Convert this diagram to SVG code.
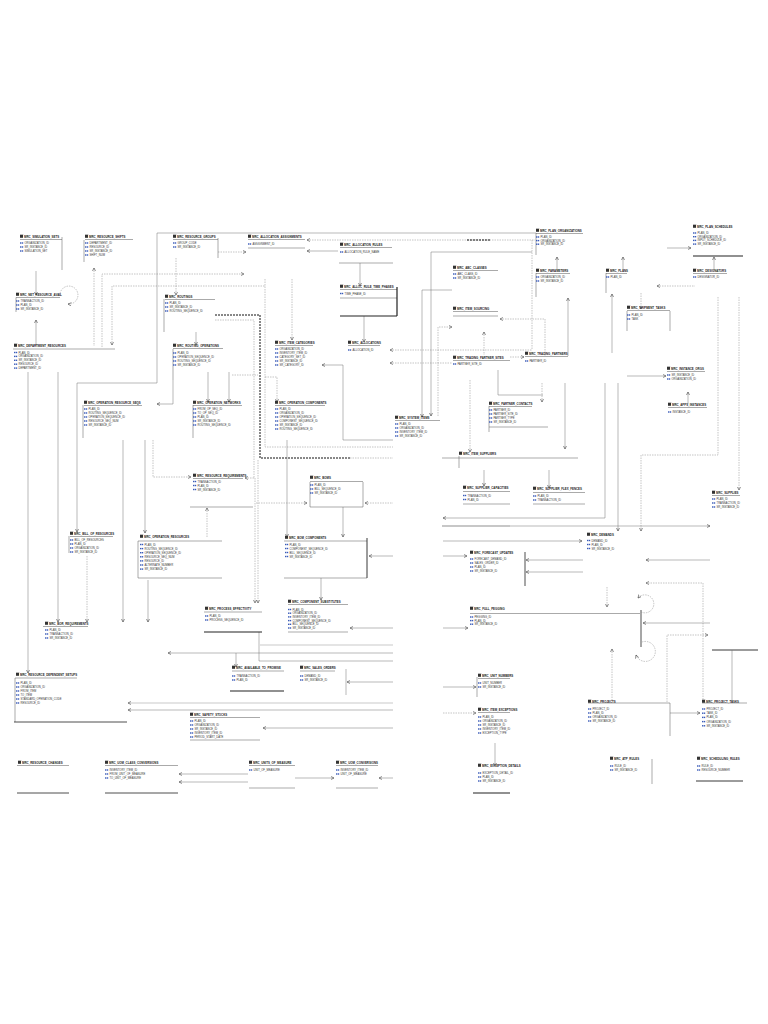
<svg xmlns="http://www.w3.org/2000/svg" xmlns:xlink="http://www.w3.org/1999/xlink" width="768" height="1024" viewBox="0 0 768 1024">
<style>
.t{font:bold 2.9px "Liberation Sans",Arial,sans-serif;fill:#222}
.f{font:2.7px "Liberation Sans",Arial,sans-serif;fill:#333}
.ln{fill:none;stroke:#555;stroke-width:0.5}
.bk{fill:none;stroke:#222;stroke-width:1.2}
.c{fill:none;stroke:#707070;stroke-width:0.5}
.d{fill:none;stroke:#888;stroke-width:0.5;stroke-dasharray:1.5 1}
.dk{fill:none;stroke:#111;stroke-width:1;stroke-dasharray:2 1}
.g{fill:none;stroke:#bbb;stroke-width:0.8}
.ar{marker-end:url(#a)}
.as{marker-start:url(#a)}
</style>
<defs>
<marker id="a" viewBox="0 0 6 6" refX="5" refY="3" markerWidth="4" markerHeight="4" markerUnits="userSpaceOnUse" orient="auto-start-reverse"><path d="M0,0.5L5,3L0,5.5" fill="none" stroke="#444" stroke-width="0.9"/></marker>
<g id="ic"><rect x="0" y="-3.2" width="3" height="3" fill="#333"/><path d="M0,-3.5H3.5" stroke="#999" stroke-width="0.4"/></g>
<g id="k" fill="#3a5bb8"><rect x="0" y="-1.7" width="1.4" height="1.4"/><rect x="1.8" y="-1.7" width="1.4" height="1.4"/></g>
</defs>
<rect width="768" height="1024" fill="#fff"/>

<g id="connectors">
<path class="c ar" d="M36,271V295"/>
<path class="c ar" d="M36,346V320"/>
<path class="d ar" d="M60,296A9,9 0 1 1 68,304"/>
<path class="d as" d="M94,268V346"/>
<path class="d ar" d="M102,347V274H244"/>
<path class="d as" d="M112,345V286H265"/>
<path class="d" d="M265,279V447H393"/>
<path class="d ar" d="M292,279V340"/>
<path class="d ar" d="M265,377H277V402"/>
<path class="d ar" d="M218,252H246"/>
<path class="d ar" d="M176,258V295"/>
<path class="c as" d="M307,251H338"/>
<path class="d as" d="M307,240H535"/>
<path class="dk" d="M467,240H490"/>
<path class="c ar" d="M360,263V286"/>
<path class="c ar" d="M364,316V342"/>
<path class="c" d="M157,370V233H536"/>
<path class="c ar" d="M157,370V383H77V532"/>
<path class="c ar" d="M173,380V404H157"/>
<path class="c ar" d="M208,372V402"/>
<path class="c ar" d="M229,372V402"/>
<path class="c ar" d="M196,332V345"/>
<path class="d ar" d="M153,440V477H191"/>
<path class="d" d="M215,320H254V478"/>
<path class="d ar" d="M254,478H245"/>
<path class="d" d="M232,375H258"/>
<path class="dk" d="M215,315H260V458H350"/>
<path class="d" d="M350,458H393"/>
<path class="d as" d="M207,508V537"/>
<path class="d ar" d="M255,478V603"/>
<path class="d ar" d="M258,460V603"/>
<path class="c ar" d="M28,372V673"/>
<path class="c ar" d="M58,372V622"/>
<path class="d ar" d="M87,556V622"/>
<path class="c ar" d="M123,440V622"/>
<path class="c ar" d="M145,440V533"/>
<path class="c ar" d="M148,580V622"/>
<path class="c ar" d="M287,440V537"/>
<path class="c ar" d="M343,507V537"/>
<path class="c as" d="M322,365H343V440H393"/>
<path class="d as" d="M365,503H393"/>
<path class="d ar" d="M256,503H307"/>
<path class="c as" d="M369,556H393"/>
<path class="c ar" d="M321,578V600"/>
<path class="c as" d="M350,628H393"/>
<path class="g" d="M260,645H393"/>
<path class="c as" d="M168,653H393"/>
<path class="c" d="M259,632V661H393"/>
<path class="c ar" d="M236,653V667"/>
<path class="g as" d="M128,703H393"/>
<path class="c as" d="M128,710H393"/>
<path class="c" d="M346,669V695"/>
<path class="c as" d="M347,682H393"/>
<path class="c as" d="M263,728H393"/>
<path class="c as" d="M179,774H248"/>
<path class="c as" d="M179,782H248"/>
<path class="c ar" d="M295,778H334"/>
<path class="c as" d="M379,778H393"/>
<path class="c ar" d="M431,252V416"/>
<path class="c" d="M431,252H532"/>
<path class="c ar" d="M452,290H422V417"/>
<path class="d ar" d="M438,416V327H452"/>
<path class="d as" d="M484,332V355"/>
<path class="d as" d="M500,319H545V356"/>
<path class="d" d="M532,240V350"/>
<path class="d as" d="M390,350H532"/>
<path class="d as" d="M390,363H452"/>
<path class="d ar" d="M510,357H524"/>
<path class="c as" d="M557,257V270"/>
<path class="c as" d="M623,257V270"/>
<path class="c ar" d="M667,248H691"/>
<path class="c as" d="M714,257V270"/>
<path class="c as" d="M568,298V356"/>
<path class="c ar" d="M565,383V449"/>
<path class="c as" d="M612,294V353"/>
<path class="c ar" d="M627,376H666"/>
<path class="c ar" d="M605,383V518H443"/>
<path class="c ar" d="M618,383V531"/>
<path class="d ar" d="M641,293V309"/>
<path class="d as" d="M657,286H695"/>
<path class="d ar" d="M718,297V455H641V531"/>
<path class="d ar" d="M739,297V490"/>
<path class="c as" d="M688,392V404"/>
<path class="c" d="M498,370V395H543"/>
<path class="d ar" d="M542,383V402"/>
<path class="d ar" d="M470,380V452"/>
<path class="c ar" d="M484,470V486"/>
<path class="c ar" d="M549,470V488"/>
<path class="g" d="M442,526H510"/>
<path class="c ar" d="M442,526H710"/>
<path class="c ar" d="M443,541H582"/>
<path class="c ar" d="M443,556H467"/>
<path class="bk" style="stroke-width:0.8" d="M525,552V586"/>
<path class="c ar" d="M583,560H526"/>
<path class="c ar" d="M583,572H526"/>
<path class="c ar" d="M710,560H646"/>
<path class="d ar" d="M703,702V583H646"/>
<path class="d ar" d="M607,587V607"/>
<path class="c ar" d="M443,628H468"/>
<path class="bk" style="stroke-width:0.8" d="M641,610V647"/>
<path class="d ar" d="M641,612A9,9 0 1 0 638,598"/>
<path class="d ar" d="M642,642A10,10 0 1 1 636,655"/>
<path class="c ar" d="M710,623H643"/>
<path class="d ar" d="M667,702V635H708"/>
<path class="d as" d="M612,649V702"/>
<path class="bk" style="stroke-width:0.9" d="M712,650H758"/>
<path class="c" d="M732,650V702"/>
<path class="c ar" d="M670,713H700"/>
<path class="c ar" d="M443,687H476"/>
<path class="d ar" d="M443,713H476"/>
<path class="c ar" d="M495,743V766"/>
</g>

<g id="MRC_SIMULATION_SETS" transform="translate(20,238)"><use href="#ic"/><text class="t" x="4">MRC_SIMULATION_SETS</text><path class="ln" d="M0,1.5H42M42,-1V32"/><use href="#k" y="6"/><use href="#k" y="10"/><use href="#k" y="14"/><text class="f"><tspan x="4.5" y="6">ORGANIZATION_ID</tspan><tspan x="4.5" y="10">SR_INSTANCE_ID</tspan><tspan x="4.5" y="14">SIMULATION_SET</tspan></text></g>

<g id="MRC_NET_RESOURCE_AVAIL" transform="translate(16,296)"><use href="#ic"/><text class="t" x="4">MRC_NET_RESOURCE_AVAIL</text><path class="ln" d="M0,1.5H44M0,1.5V16"/><use href="#k" y="6"/><use href="#k" y="10"/><use href="#k" y="14"/><text class="f"><tspan x="4.5" y="6">TRANSACTION_ID</tspan><tspan x="4.5" y="10">PLAN_ID</tspan><tspan x="4.5" y="14">SR_INSTANCE_ID</tspan></text></g>

<g id="MRC_DEPARTMENT_RESOURCES" transform="translate(14,347)"><use href="#ic"/><text class="t" x="4">MRC_DEPARTMENT_RESOURCES</text><path class="ln" d="M-1,2H101"/><use href="#k" y="6.5"/><use href="#k" y="10.4"/><use href="#k" y="14.3"/><use href="#k" y="18.2"/><use href="#k" y="22.1"/><text class="f"><tspan x="4.5" y="6.5">PLAN_ID</tspan><tspan x="4.5" y="10.4">ORGANIZATION_ID</tspan><tspan x="4.5" y="14.3">SR_INSTANCE_ID</tspan><tspan x="4.5" y="18.2">RESOURCE_ID</tspan><tspan x="4.5" y="22.1">DEPARTMENT_ID</tspan></text></g>

<g id="MRC_RESOURCE_SHIFTS" transform="translate(85,238)"><use href="#ic"/><text class="t" x="4">MRC_RESOURCE_SHIFTS</text><path class="ln" d="M0,1.5H48M-1,2V24"/><use href="#k" y="6"/><use href="#k" y="10"/><use href="#k" y="14"/><use href="#k" y="18"/><text class="f"><tspan x="4.5" y="6">DEPARTMENT_ID</tspan><tspan x="4.5" y="10">RESOURCE_ID</tspan><tspan x="4.5" y="14">SR_INSTANCE_ID</tspan><tspan x="4.5" y="18">SHIFT_NUM</tspan></text></g>

<g id="MRC_RESOURCE_GROUPS" transform="translate(173,238)"><use href="#ic"/><text class="t" x="4">MRC_RESOURCE_GROUPS</text><path class="ln" d="M0,1.5H45M45,0V20"/><use href="#k" y="6"/><use href="#k" y="10"/><text class="f"><tspan x="4.5" y="6">GROUP_CODE</tspan><tspan x="4.5" y="10">SR_INSTANCE_ID</tspan></text></g>

<g id="MRC_ALLOCATION_ASSIGNMENTS" transform="translate(248,238)"><use href="#ic"/><text class="t" x="4">MRC_ALLOCATION_ASSIGNMENTS</text><path class="ln" d="M0,1.5H57M0,10H57"/><use href="#k" y="7"/><text class="f"><tspan x="4.5" y="7">ASSIGNMENT_ID</tspan></text></g>

<g id="MRC_ALLOCATION_RULES" transform="translate(340,246)"><use href="#ic"/><text class="t" x="4">MRC_ALLOCATION_RULES</text><path class="ln" d="M0,1.5H52M-1,17H53"/><use href="#k" y="7"/><text class="f"><tspan x="4.5" y="7">ALLOCATION_RULE_NAME</tspan></text></g>

<g id="MRC_ALLOC_RULE_TIME_PHASES" transform="translate(340,288)"><use href="#ic"/><text class="t" x="4">MRC_ALLOC_RULE_TIME_PHASES</text><path class="ln" d="M0,1.5H57M0,10H57"/><path class="bk" d="M57,-1V28M0,28H57"/><use href="#k" y="6.5"/><text class="f"><tspan x="4.5" y="6.5">TIME_PHASE_ID</tspan></text></g>

<g id="MRC_ALLOCATIONS" transform="translate(348,344)"><use href="#ic"/><text class="t" x="4">MRC_ALLOCATIONS</text><path class="ln" d="M0,1.5H32"/><use href="#k" y="7"/><text class="f"><tspan x="4.5" y="7">ALLOCATION_ID</tspan></text></g>

<g id="MRC_ITEM_CATEGORIES" transform="translate(275,344)"><use href="#ic"/><text class="t" x="4">MRC_ITEM_CATEGORIES</text><path class="ln" d="M0,1.5H38"/><use href="#k" y="6"/><use href="#k" y="10"/><use href="#k" y="14"/><use href="#k" y="18"/><use href="#k" y="22"/><text class="f"><tspan x="4.5" y="6">ORGANIZATION_ID</tspan><tspan x="4.5" y="10">INVENTORY_ITEM_ID</tspan><tspan x="4.5" y="14">CATEGORY_SET_ID</tspan><tspan x="4.5" y="18">SR_INSTANCE_ID</tspan><tspan x="4.5" y="22">SR_CATEGORY_ID</tspan></text></g>

<g id="MRC_ABC_CLASSES" transform="translate(453,269)"><use href="#ic"/><text class="t" x="4">MRC_ABC_CLASSES</text><path class="ln" d="M0,1.5H45"/><use href="#k" y="6"/><use href="#k" y="10"/><text class="f"><tspan x="4.5" y="6">ABC_CLASS_ID</tspan><tspan x="4.5" y="10">SR_INSTANCE_ID</tspan></text></g>

<g id="MRC_ITEM_SOURCING" transform="translate(453,310)"><use href="#ic"/><text class="t" x="4">MRC_ITEM_SOURCING</text><path class="ln" d="M0,1.5H45M0,6H45"/></g>

<g id="MRC_TRADING_PARTNER_SITES" transform="translate(453,359)"><use href="#ic"/><text class="t" x="4">MRC_TRADING_PARTNER_SITES</text><path class="ln" d="M0,1.5H57"/><use href="#k" y="6"/><text class="f"><tspan x="4.5" y="6">PARTNER_SITE_ID</tspan></text></g>

<g id="MRC_PLAN_ORGANIZATIONS" transform="translate(536,232)"><use href="#ic"/><text class="t" x="4">MRC_PLAN_ORGANIZATIONS</text><path class="ln" d="M0,1.5H47M0,1V23"/><use href="#k" y="6"/><use href="#k" y="9.6"/><use href="#k" y="13.2"/><text class="f"><tspan x="4.5" y="6">PLAN_ID</tspan><tspan x="4.5" y="9.6">ORGANIZATION_ID</tspan><tspan x="4.5" y="13.2">SR_INSTANCE_ID</tspan></text></g>

<g id="MRC_PARAMETERS" transform="translate(536,272)"><use href="#ic"/><text class="t" x="4">MRC_PARAMETERS</text><path class="ln" d="M0,1.5H34M0,1V25"/><use href="#k" y="6"/><use href="#k" y="10"/><text class="f"><tspan x="4.5" y="6">ORGANIZATION_ID</tspan><tspan x="4.5" y="10">SR_INSTANCE_ID</tspan></text></g>

<g id="MRC_PLANS" transform="translate(606,272)"><use href="#ic"/><text class="t" x="4">MRC_PLANS</text><path class="ln" d="M0,1.5H21M0,1V21"/><use href="#k" y="6"/><text class="f"><tspan x="4.5" y="6">PLAN_ID</tspan></text></g>

<g id="MRC_PLAN_SCHEDULES" transform="translate(693,228)"><use href="#ic"/><text class="t" x="4">MRC_PLAN_SCHEDULES</text><use href="#k" y="6"/><use href="#k" y="9.7"/><use href="#k" y="13.4"/><use href="#k" y="17.1"/><text class="f"><tspan x="4.5" y="6">PLAN_ID</tspan><tspan x="4.5" y="9.7">ORGANIZATION_ID</tspan><tspan x="4.5" y="13.4">INPUT_SCHEDULE_ID</tspan><tspan x="4.5" y="17.1">SR_INSTANCE_ID</tspan></text><path class="bk" d="M0,28H50"/></g>

<g id="MRC_DESIGNATORS" transform="translate(693,272)"><use href="#ic"/><text class="t" x="4">MRC_DESIGNATORS</text><path class="ln" d="M0,1.5H34"/><use href="#k" y="6"/><text class="f"><tspan x="4.5" y="6">DESIGNATOR_ID</tspan></text></g>

<g id="MRC_SHIPMENT_TASKS" transform="translate(627,309)"><use href="#ic"/><text class="t" x="4">MRC_SHIPMENT_TASKS</text><path class="ln" d="M0,1.5H43M0,2V22M43,2V22"/><use href="#k" y="7"/><use href="#k" y="11"/><text class="f"><tspan x="4.5" y="7">PLAN_ID</tspan><tspan x="4.5" y="11">TASK</tspan></text></g>

<g id="MRC_ROUTINGS" transform="translate(165,298)"><use href="#ic"/><text class="t" x="4">MRC_ROUTINGS</text><path class="ln" d="M0,1.5H50M-1,1V34"/><use href="#k" y="6"/><use href="#k" y="10"/><use href="#k" y="14"/><text class="f"><tspan x="4.5" y="6">PLAN_ID</tspan><tspan x="4.5" y="10">SR_INSTANCE_ID</tspan><tspan x="4.5" y="14">ROUTING_SEQUENCE_ID</tspan></text></g>

<g id="MRC_ROUTING_OPERATIONS" transform="translate(173,347)"><use href="#ic"/><text class="t" x="4">MRC_ROUTING_OPERATIONS</text><path class="ln" d="M0,1.5H50M0,2V33"/><use href="#k" y="7"/><use href="#k" y="11"/><use href="#k" y="15"/><use href="#k" y="19"/><text class="f"><tspan x="4.5" y="7">PLAN_ID</tspan><tspan x="4.5" y="11">OPERATION_SEQUENCE_ID</tspan><tspan x="4.5" y="15">ROUTING_SEQUENCE_ID</tspan><tspan x="4.5" y="19">SR_INSTANCE_ID</tspan></text></g>

<g id="MRC_TRADING_PARTNERS" transform="translate(525,355)"><use href="#ic"/><text class="t" x="4">MRC_TRADING_PARTNERS</text><path class="ln" d="M0,1.5H43"/><use href="#k" y="7"/><text class="f"><tspan x="4.5" y="7">PARTNER_ID</tspan></text></g>

<g id="MRC_INSTANCE_ORGS" transform="translate(667,370)"><use href="#ic"/><text class="t" x="4">MRC_INSTANCE_ORGS</text><path class="ln" d="M0,1.5H38"/><use href="#k" y="6"/><use href="#k" y="10"/><text class="f"><tspan x="4.5" y="6">SR_INSTANCE_ID</tspan><tspan x="4.5" y="10">ORGANIZATION_ID</tspan></text></g>

<g id="MRC_APPS_INSTANCES" transform="translate(668,406)"><use href="#ic"/><text class="t" x="4">MRC_APPS_INSTANCES</text><path class="ln" d="M0,1.5H39"/><use href="#k" y="7"/><text class="f"><tspan x="4.5" y="7">INSTANCE_ID</tspan></text></g>

<g id="MRC_OPERATION_RESOURCE_SEQS" transform="translate(84,404)"><use href="#ic"/><text class="t" x="4">MRC_OPERATION_RESOURCE_SEQS</text><path class="ln" d="M0,1.5H58M-1,1V34"/><use href="#k" y="6"/><use href="#k" y="10"/><use href="#k" y="14"/><use href="#k" y="18"/><use href="#k" y="22"/><text class="f"><tspan x="4.5" y="6">PLAN_ID</tspan><tspan x="4.5" y="10">ROUTING_SEQUENCE_ID</tspan><tspan x="4.5" y="14">OPERATION_SEQUENCE_ID</tspan><tspan x="4.5" y="18">RESOURCE_SEQ_NUM</tspan><tspan x="4.5" y="22">SR_INSTANCE_ID</tspan></text></g>

<g id="MRC_OPERATION_NETWORKS" transform="translate(193,404)"><use href="#ic"/><text class="t" x="4">MRC_OPERATION_NETWORKS</text><path class="ln" d="M0,1.5H49M0,1V34"/><use href="#k" y="6"/><use href="#k" y="10"/><use href="#k" y="14"/><use href="#k" y="18"/><use href="#k" y="22"/><text class="f"><tspan x="4.5" y="6">FROM_OP_SEQ_ID</tspan><tspan x="4.5" y="10">TO_OP_SEQ_ID</tspan><tspan x="4.5" y="14">PLAN_ID</tspan><tspan x="4.5" y="18">SR_INSTANCE_ID</tspan><tspan x="4.5" y="22">ROUTING_SEQUENCE_ID</tspan></text></g>

<g id="MRC_OPERATION_COMPONENTS" transform="translate(275,404)"><use href="#ic"/><text class="t" x="4">MRC_OPERATION_COMPONENTS</text><path class="ln" d="M0,1.5H50"/><use href="#k" y="6"/><use href="#k" y="10"/><use href="#k" y="14"/><use href="#k" y="18"/><use href="#k" y="22"/><use href="#k" y="26"/><text class="f"><tspan x="4.5" y="6">PLAN_ID</tspan><tspan x="4.5" y="10">ORGANIZATION_ID</tspan><tspan x="4.5" y="14">OPERATION_SEQUENCE_ID</tspan><tspan x="4.5" y="18">COMPONENT_SEQUENCE_ID</tspan><tspan x="4.5" y="22">SR_INSTANCE_ID</tspan><tspan x="4.5" y="26">ROUTING_SEQUENCE_ID</tspan></text></g>

<g id="MRC_SYSTEM_ITEMS" transform="translate(395,419)"><use href="#ic"/><text class="t" x="4">MRC_SYSTEM_ITEMS</text><path class="ln" d="M0,1.5H45"/><use href="#k" y="6"/><use href="#k" y="10"/><use href="#k" y="14"/><use href="#k" y="18"/><text class="f"><tspan x="4.5" y="6">PLAN_ID</tspan><tspan x="4.5" y="10">ORGANIZATION_ID</tspan><tspan x="4.5" y="14">INVENTORY_ITEM_ID</tspan><tspan x="4.5" y="18">SR_INSTANCE_ID</tspan></text></g>

<g id="MRC_PARTNER_CONTACTS" transform="translate(489,405)"><use href="#ic"/><text class="t" x="4">MRC_PARTNER_CONTACTS</text><path class="ln" d="M0,1.5H43M0,22H59M0,1V27"/><use href="#k" y="6"/><use href="#k" y="10"/><use href="#k" y="14"/><use href="#k" y="18"/><text class="f"><tspan x="4.5" y="6">PARTNER_ID</tspan><tspan x="4.5" y="10">PARTNER_SITE_ID</tspan><tspan x="4.5" y="14">PARTNER_TYPE</tspan><tspan x="4.5" y="18">SR_INSTANCE_ID</tspan></text></g>

<g id="MRC_ITEM_SUPPLIERS" transform="translate(459,455)"><use href="#ic"/><text class="t" x="4">MRC_ITEM_SUPPLIERS</text><path class="ln" d="M-17,3H119M0,1V13"/></g>

<g id="MRC_RESOURCE_REQUIREMENTS" transform="translate(193,477)"><use href="#ic"/><text class="t" x="4">MRC_RESOURCE_REQUIREMENTS</text><path class="ln" d="M0,1.5H50M-3,30H60"/><use href="#k" y="5.5"/><use href="#k" y="9.5"/><use href="#k" y="13.5"/><text class="f"><tspan x="4.5" y="5.5">TRANSACTION_ID</tspan><tspan x="4.5" y="9.5">PLAN_ID</tspan><tspan x="4.5" y="13.5">SR_INSTANCE_ID</tspan></text></g>

<g id="MRC_BOMS" transform="translate(310,479)"><use href="#ic"/><text class="t" x="4">MRC_BOMS</text><path class="ln" d="M0,2.5H53M0,3V28M53,3V28M0,28H53"/><use href="#k" y="7"/><use href="#k" y="11"/><use href="#k" y="15"/><text class="f"><tspan x="4.5" y="7">PLAN_ID</tspan><tspan x="4.5" y="11">BILL_SEQUENCE_ID</tspan><tspan x="4.5" y="15">SR_INSTANCE_ID</tspan></text></g>

<g id="MRC_SUPPLIER_CAPACITIES" transform="translate(463,489)"><use href="#ic"/><text class="t" x="4">MRC_SUPPLIER_CAPACITIES</text><path class="ln" d="M0,2.5H47M0,15H47"/><use href="#k" y="7.5"/><use href="#k" y="11.5"/><text class="f"><tspan x="4.5" y="7.5">TRANSACTION_ID</tspan><tspan x="4.5" y="11.5">PLAN_ID</tspan></text></g>

<g id="MRC_SUPPLIER_FLEX_FENCES" transform="translate(533,490)"><use href="#ic"/><text class="t" x="4">MRC_SUPPLIER_FLEX_FENCES</text><path class="ln" d="M0,2.5H52M0,14H52"/><use href="#k" y="7"/><use href="#k" y="11"/><text class="f"><tspan x="4.5" y="7">PLAN_ID</tspan><tspan x="4.5" y="11">TRANSACTION_ID</tspan></text></g>

<g id="MRC_SUPPLIES" transform="translate(712,494)"><use href="#ic"/><text class="t" x="4">MRC_SUPPLIES</text><path class="ln" d="M0,1.5H28"/><use href="#k" y="6"/><use href="#k" y="10"/><use href="#k" y="14"/><text class="f"><tspan x="4.5" y="6">PLAN_ID</tspan><tspan x="4.5" y="10">TRANSACTION_ID</tspan><tspan x="4.5" y="14">SR_INSTANCE_ID</tspan></text></g>

<g id="MRC_BILL_OF_RESOURCES" transform="translate(70,535)"><use href="#ic"/><text class="t" x="4">MRC_BILL_OF_RESOURCES</text><path class="ln" d="M0,1.5H43M-1,1V18"/><use href="#k" y="6"/><use href="#k" y="10"/><use href="#k" y="14"/><use href="#k" y="18"/><text class="f"><tspan x="4.5" y="6">BILL_OF_RESOURCES</tspan><tspan x="4.5" y="10">PLAN_ID</tspan><tspan x="4.5" y="14">ORGANIZATION_ID</tspan><tspan x="4.5" y="18">SR_INSTANCE_ID</tspan></text></g>

<g id="MRC_OPERATION_RESOURCES" transform="translate(140,538)"><use href="#ic"/><text class="t" x="4">MRC_OPERATION_RESOURCES</text><path class="ln" d="M-2,3H82M-2,3V40M-2,40H82"/><use href="#k" y="7.5"/><use href="#k" y="11.6"/><use href="#k" y="15.7"/><use href="#k" y="19.8"/><use href="#k" y="23.9"/><use href="#k" y="28"/><use href="#k" y="32.1"/><text class="f"><tspan x="4.5" y="7.5">PLAN_ID</tspan><tspan x="4.5" y="11.6">ROUTING_SEQUENCE_ID</tspan><tspan x="4.5" y="15.7">OPERATION_SEQUENCE_ID</tspan><tspan x="4.5" y="19.8">RESOURCE_SEQ_NUM</tspan><tspan x="4.5" y="23.9">RESOURCE_ID</tspan><tspan x="4.5" y="28">ALTERNATE_NUMBER</tspan><tspan x="4.5" y="32.1">SR_INSTANCE_ID</tspan></text></g>

<g id="MRC_BOM_COMPONENTS" transform="translate(285,539)"><use href="#ic"/><text class="t" x="4">MRC_BOM_COMPONENTS</text><path class="ln" d="M-1,2H82M-1,39H82"/><path class="bk" style="stroke-width:0.9" d="M82,-1V39"/><use href="#k" y="6.5"/><use href="#k" y="10.5"/><use href="#k" y="14.5"/><use href="#k" y="18.5"/><text class="f"><tspan x="4.5" y="6.5">PLAN_ID</tspan><tspan x="4.5" y="10.5">COMPONENT_SEQUENCE_ID</tspan><tspan x="4.5" y="14.5">BILL_SEQUENCE_ID</tspan><tspan x="4.5" y="18.5">SR_INSTANCE_ID</tspan></text></g>

<g id="MRC_DEMANDS" transform="translate(587,536)"><use href="#ic"/><text class="t" x="4">MRC_DEMANDS</text><use href="#k" y="5.5"/><use href="#k" y="9.5"/><use href="#k" y="13.5"/><text class="f"><tspan x="4.5" y="5.5">DEMAND_ID</tspan><tspan x="4.5" y="9.5">PLAN_ID</tspan><tspan x="4.5" y="13.5">SR_INSTANCE_ID</tspan></text></g>

<g id="MRC_FORECAST_UPDATES" transform="translate(470,554)"><use href="#ic"/><text class="t" x="4">MRC_FORECAST_UPDATES</text><use href="#k" y="6"/><use href="#k" y="10"/><use href="#k" y="14"/><use href="#k" y="18"/><text class="f"><tspan x="4.5" y="6">FORECAST_DEMAND_ID</tspan><tspan x="4.5" y="10">SALES_ORDER_ID</tspan><tspan x="4.5" y="14">PLAN_ID</tspan><tspan x="4.5" y="18">SR_INSTANCE_ID</tspan></text></g>

<g id="MRC_COMPONENT_SUBSTITUTES" transform="translate(288,603)"><use href="#ic"/><text class="t" x="4">MRC_COMPONENT_SUBSTITUTES</text><path class="ln" d="M0,1.5H60M0,29H60"/><use href="#k" y="7.5"/><use href="#k" y="11.2"/><use href="#k" y="14.9"/><use href="#k" y="18.6"/><use href="#k" y="22.3"/><use href="#k" y="26"/><text class="f"><tspan x="4.5" y="7.5">PLAN_ID</tspan><tspan x="4.5" y="11.2">ORGANIZATION_ID</tspan><tspan x="4.5" y="14.9">INVENTORY_ITEM_ID</tspan><tspan x="4.5" y="18.6">COMPONENT_SEQUENCE_ID</tspan><tspan x="4.5" y="22.3">BILL_SEQUENCE_ID</tspan><tspan x="4.5" y="26">SR_INSTANCE_ID</tspan></text></g>

<g id="MRC_PROCESS_EFFECTIVITY" transform="translate(205,610)"><use href="#ic"/><text class="t" x="4">MRC_PROCESS_EFFECTIVITY</text><path class="ln" d="M-1,2H57"/><path class="bk" d="M-1,22H57"/><use href="#k" y="7"/><use href="#k" y="11"/><text class="f"><tspan x="4.5" y="7">PLAN_ID</tspan><tspan x="4.5" y="11">PROCESS_SEQUENCE_ID</tspan></text></g>

<g id="MRC_FULL_PEGGING" transform="translate(470,610)"><use href="#ic"/><text class="t" x="4">MRC_FULL_PEGGING</text><path class="ln" d="M0,3.5H170"/><use href="#k" y="8"/><use href="#k" y="11.6"/><use href="#k" y="15.2"/><text class="f"><tspan x="4.5" y="8">PEGGING_ID</tspan><tspan x="4.5" y="11.6">PLAN_ID</tspan><tspan x="4.5" y="15.2">SR_INSTANCE_ID</tspan></text></g>

<g id="MRC_BOR_REQUIREMENTS" transform="translate(45,625)"><use href="#ic"/><text class="t" x="4">MRC_BOR_REQUIREMENTS</text><path class="ln" d="M-2,1.5H43"/><use href="#k" y="6"/><use href="#k" y="10"/><use href="#k" y="14"/><text class="f"><tspan x="4.5" y="6">PLAN_ID</tspan><tspan x="4.5" y="10">TRANSACTION_ID</tspan><tspan x="4.5" y="14">SR_INSTANCE_ID</tspan></text></g>

<g id="MRC_AVAILABLE_TO_PROMISE" transform="translate(232,669)"><use href="#ic"/><text class="t" x="4">MRC_AVAILABLE_TO_PROMISE</text><path class="ln" d="M0,2H52"/><path class="bk" d="M-2,22H52"/><use href="#k" y="8"/><use href="#k" y="12"/><text class="f"><tspan x="4.5" y="8">TRANSACTION_ID</tspan><tspan x="4.5" y="12">PLAN_ID</tspan></text></g>

<g id="MRC_SALES_ORDERS" transform="translate(300,669)"><use href="#ic"/><text class="t" x="4">MRC_SALES_ORDERS</text><path class="ln" d="M0,2H35"/><use href="#k" y="8"/><use href="#k" y="12"/><text class="f"><tspan x="4.5" y="8">DEMAND_ID</tspan><tspan x="4.5" y="12">SR_INSTANCE_ID</tspan></text></g>

<g id="MRC_RESOURCE_DEPENDENT_SETUPS" transform="translate(16,676)"><use href="#ic"/><text class="t" x="4">MRC_RESOURCE_DEPENDENT_SETUPS</text><path class="ln" d="M-1,2H61M-1,2V46"/><path class="bk" style="stroke-width:0.8" d="M-2,46H111"/><use href="#k" y="8"/><use href="#k" y="12"/><use href="#k" y="16"/><use href="#k" y="20"/><use href="#k" y="24"/><use href="#k" y="28"/><text class="f"><tspan x="4.5" y="8">PLAN_ID</tspan><tspan x="4.5" y="12">ORGANIZATION_ID</tspan><tspan x="4.5" y="16">FROM_ITEM</tspan><tspan x="4.5" y="20">TO_ITEM</tspan><tspan x="4.5" y="24">STANDARD_OPERATION_CODE</tspan><tspan x="4.5" y="28">RESOURCE_ID</tspan></text></g>

<g id="MRC_UNIT_NUMBERS" transform="translate(478,677)"><use href="#ic"/><text class="t" x="4">MRC_UNIT_NUMBERS</text><path class="ln" d="M0,1.5H32M-1,0V20"/><use href="#k" y="7"/><use href="#k" y="11"/><text class="f"><tspan x="4.5" y="7">UNIT_NUMBER</tspan><tspan x="4.5" y="11">SR_INSTANCE_ID</tspan></text></g>

<g id="MRC_PROJECTS" transform="translate(588,703)"><use href="#ic"/><text class="t" x="4">MRC_PROJECTS</text><path class="ln" d="M0,0H82M82,0V33"/><use href="#k" y="7"/><use href="#k" y="11"/><use href="#k" y="15"/><use href="#k" y="19"/><text class="f"><tspan x="4.5" y="7">PROJECT_ID</tspan><tspan x="4.5" y="11">PLAN_ID</tspan><tspan x="4.5" y="15">ORGANIZATION_ID</tspan><tspan x="4.5" y="19">SR_INSTANCE_ID</tspan></text></g>

<g id="MRC_PROJECT_TASKS" transform="translate(702,703)"><use href="#ic"/><text class="t" x="4">MRC_PROJECT_TASKS</text><path class="ln" d="M0,0H45"/><use href="#k" y="7"/><use href="#k" y="11.2"/><use href="#k" y="15.4"/><use href="#k" y="19.6"/><use href="#k" y="23.8"/><text class="f"><tspan x="4.5" y="7">PROJECT_ID</tspan><tspan x="4.5" y="11.2">TASK_ID</tspan><tspan x="4.5" y="15.4">PLAN_ID</tspan><tspan x="4.5" y="19.6">ORGANIZATION_ID</tspan><tspan x="4.5" y="23.8">SR_INSTANCE_ID</tspan></text></g>

<g id="MRC_SAFETY_STOCKS" transform="translate(190,716)"><use href="#ic"/><text class="t" x="4">MRC_SAFETY_STOCKS</text><path class="ln" d="M0,1.5H70M0,24H70"/><use href="#k" y="6"/><use href="#k" y="10"/><use href="#k" y="14"/><use href="#k" y="18"/><use href="#k" y="22"/><text class="f"><tspan x="4.5" y="6">PLAN_ID</tspan><tspan x="4.5" y="10">ORGANIZATION_ID</tspan><tspan x="4.5" y="14">SR_INSTANCE_ID</tspan><tspan x="4.5" y="18">INVENTORY_ITEM_ID</tspan><tspan x="4.5" y="22">PERIOD_START_DATE</tspan></text></g>

<g id="MRC_ITEM_EXCEPTIONS" transform="translate(478,711)"><use href="#ic"/><text class="t" x="4">MRC_ITEM_EXCEPTIONS</text><path class="ln" d="M0,1.5H32"/><use href="#k" y="7"/><use href="#k" y="11"/><use href="#k" y="15"/><use href="#k" y="19"/><use href="#k" y="23"/><text class="f"><tspan x="4.5" y="7">PLAN_ID</tspan><tspan x="4.5" y="11">ORGANIZATION_ID</tspan><tspan x="4.5" y="15">SR_INSTANCE_ID</tspan><tspan x="4.5" y="19">INVENTORY_ITEM_ID</tspan><tspan x="4.5" y="23">EXCEPTION_TYPE</tspan></text></g>

<g id="MRC_RESOURCE_CHANGES" transform="translate(18,764)"><use href="#ic"/><text class="t" x="4">MRC_RESOURCE_CHANGES</text><path class="ln" d="M-1,1.5H51"/><path class="bk" style="stroke-width:0.8" d="M-1,29H51"/></g>

<g id="MRC_UOM_CLASS_CONVERSIONS" transform="translate(105,764)"><use href="#ic"/><text class="t" x="4">MRC_UOM_CLASS_CONVERSIONS</text><path class="ln" d="M0,1.5H73"/><path class="bk" style="stroke-width:0.8" d="M0,29H73"/><use href="#k" y="7"/><use href="#k" y="11"/><use href="#k" y="15"/><text class="f"><tspan x="4.5" y="7">INVENTORY_ITEM_ID</tspan><tspan x="4.5" y="11">FROM_UNIT_OF_MEASURE</tspan><tspan x="4.5" y="15">TO_UNIT_OF_MEASURE</tspan></text></g>

<g id="MRC_UNITS_OF_MEASURE" transform="translate(249,764)"><use href="#ic"/><text class="t" x="4">MRC_UNITS_OF_MEASURE</text><path class="ln" d="M0,1.5H46M0,24H46"/><use href="#k" y="7"/><text class="f"><tspan x="4.5" y="7">UNIT_OF_MEASURE</tspan></text></g>

<g id="MRC_UOM_CONVERSIONS" transform="translate(336,764)"><use href="#ic"/><text class="t" x="4">MRC_UOM_CONVERSIONS</text><path class="ln" d="M0,1.5H42M0,24H42"/><use href="#k" y="7"/><use href="#k" y="11"/><text class="f"><tspan x="4.5" y="7">INVENTORY_ITEM_ID</tspan><tspan x="4.5" y="11">UNIT_OF_MEASURE</tspan></text></g>

<g id="MRC_EXCEPTION_DETAILS" transform="translate(478,767)"><use href="#ic"/><text class="t" x="4">MRC_EXCEPTION_DETAILS</text><use href="#k" y="7"/><use href="#k" y="11"/><use href="#k" y="15"/><text class="f"><tspan x="4.5" y="7">EXCEPTION_DETAIL_ID</tspan><tspan x="4.5" y="11">PLAN_ID</tspan><tspan x="4.5" y="15">SR_INSTANCE_ID</tspan></text><path class="bk" d="M-5,26H32"/></g>

<g id="MRC_ATP_RULES" transform="translate(610,760)"><use href="#ic"/><text class="t" x="4">MRC_ATP_RULES</text><path class="ln" d="M42,-1V24"/><use href="#k" y="7"/><use href="#k" y="11"/><text class="f"><tspan x="4.5" y="7">RULE_ID</tspan><tspan x="4.5" y="11">SR_INSTANCE_ID</tspan></text></g>

<g id="MRC_SCHEDULING_RULES" transform="translate(697,760)"><use href="#ic"/><text class="t" x="4">MRC_SCHEDULING_RULES</text><use href="#k" y="7"/><use href="#k" y="11"/><text class="f"><tspan x="4.5" y="7">RULE_ID</tspan><tspan x="4.5" y="11">RESOURCE_NUMBER</tspan></text><path class="bk" style="stroke-width:0.9" d="M-1,21H46"/></g>
</svg>
